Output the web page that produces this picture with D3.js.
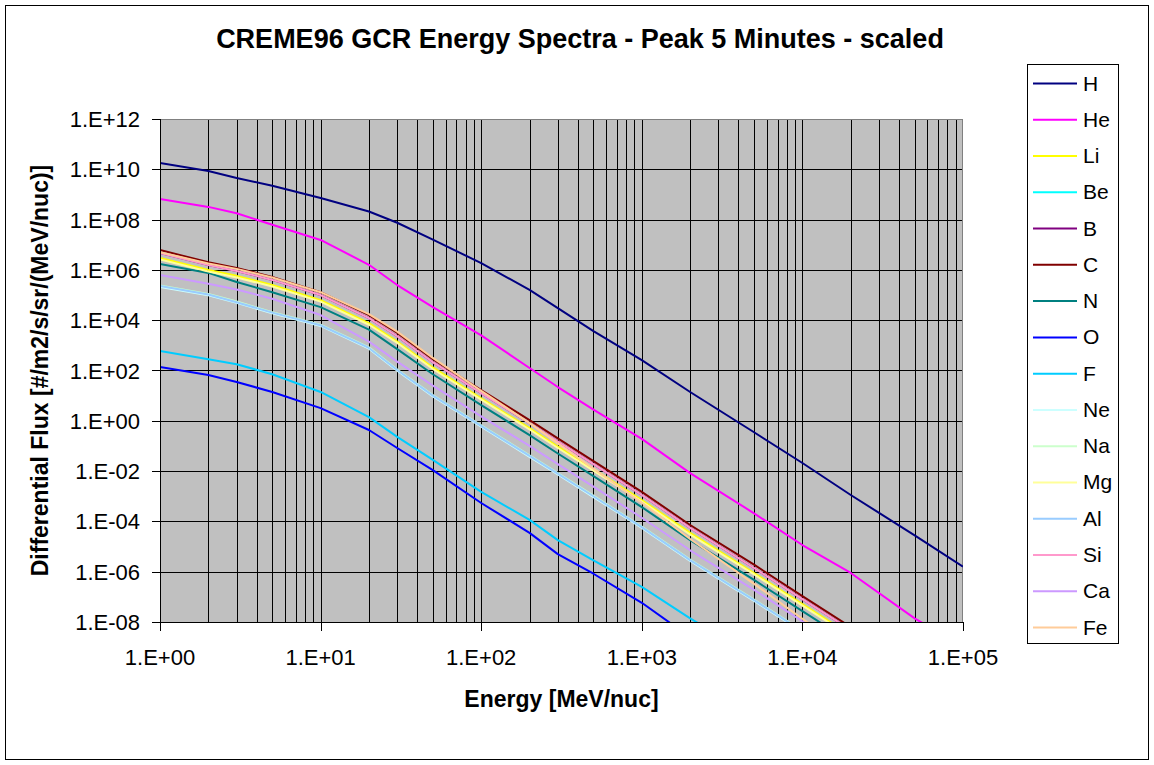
<!DOCTYPE html>
<html lang="en">
<head>
  <meta charset="UTF-8">
  <title>CREME96 GCR Energy Spectra</title>
  <script src="https://d3js.org/d3.v7.min.js"></script>
  <style>
    body { margin: 0; background: #fff; }
    text { font-family: "Liberation Sans", Arial, sans-serif; fill: #000; }
    .tick-label { font-size: 22px; }
    .axis-title { font-size: 23px; font-weight: bold; }
    .title { font-size: 27px; font-weight: bold; }
    .legend-label { font-size: 21px; }
  </style>
</head>
<body>
  <div id="chart"></div>
  <script>
    // energies [MeV/nuc]
    const energies = [1, 2, 3, 5, 10, 20, 30, 50, 100, 200, 300, 500, 1000, 2000, 5000, 1e4, 2e4, 5e4, 1e5];

    // differential flux, one array per element
    const fluxH  = [1.8e10, 8.5e9, 4.5e9, 2.2e9, 7.2e8, 2.1e8, 7.5e7, 1.6e7, 1.86e6, 1.6e5, 3.0e4, 3.7e3, 2.6e2, 14, 0.35, 0.021, 1.12e-3, 2.8e-5, 1.6e-6];
    const fluxHe = [6.6e8, 3.2e8, 1.8e8, 6.2e7, 1.55e7, 1.6e6, 2.5e5, 3.3e4, 2.5e3, 126, 22, 2.8, 0.19, 8.3e-3, 2.1e-4, 1.15e-5, 8.9e-7, 1.4e-8, 1.0e-9];
    const fluxLi = [3.0e6, 1.0e6, 5.8e5, 2.5e5, 6.3e4, 7.6e3, 1.4e3, 132, 7.9, 0.51, 0.095, 0.012, 7.1e-4, 3.5e-5, 8.9e-7, 5.1e-8, 3.0e-9, 8e-11, 5e-12];
    const fluxBe = [2.3e5, 1.05e5, 5.2e4, 2.0e4, 6.3e3, 790, 105, 10, 0.63, 0.04, 7.9e-3, 1e-3, 5.9e-5, 2.9e-6, 7.4e-8, 4.3e-9, 2.5e-10, 6.3e-12, 4e-13];
    const fluxB  = [4.7e6, 1.55e6, 9.1e5, 4.0e5, 1.0e5, 1.2e4, 2.3e3, 214, 12.6, 0.81, 0.15, 0.019, 1.12e-3, 5.5e-5, 1.4e-6, 8.1e-8, 4.8e-9, 1.2e-10, 8e-12];
    const fluxC  = [6.2e6, 2.0e6, 1.2e6, 5.2e5, 1.3e5, 1.6e4, 3.1e3, 280, 16.6, 1.07, 0.2, 0.025, 1.5e-3, 7.2e-5, 1.9e-6, 1.07e-7, 6.3e-9, 1.6e-10, 1e-11];
    const fluxN  = [1.7e6, 7.6e5, 3.3e5, 1.3e5, 3.3e4, 4.2e3, 710, 71, 4.2, 0.27, 0.05, 6.3e-3, 3.7e-4, 1.8e-5, 4.7e-7, 2.7e-8, 1.6e-9, 4e-11, 2.5e-12];
    const fluxO  = [138, 66, 35, 14, 3.2, 0.43, 0.083, 0.011, 5.4e-4, 3.5e-5, 5.0e-6, 8.3e-7, 5.8e-8, 2.5e-9, 6.3e-11, 4e-12, 2.5e-13, 6e-15, 3e-16];
    const fluxF  = [600, 282, 178, 71, 14, 1.4, 0.23, 0.028, 1.5e-3, 1.15e-4, 1.8e-5, 2.8e-6, 2.5e-7, 1.4e-8, 4e-10, 2.5e-11, 1.5e-12, 4e-14, 2e-15];
    const fluxNe = [2.1e5, 9.8e4, 4.9e4, 1.87e4, 5.9e3, 740, 98, 9.3, 0.59, 0.037, 7.4e-3, 9.3e-4, 5.5e-5, 2.7e-6, 6.9e-8, 4.0e-9, 2.3e-10, 5.9e-12, 3.7e-13];
    const fluxNa = [2.4e5, 1.1e5, 5.5e4, 2.1e4, 6.6e3, 830, 110, 10.5, 0.66, 0.042, 8.3e-3, 1.05e-3, 6.2e-5, 3.0e-6, 7.8e-8, 4.5e-9, 2.6e-10, 6.6e-12, 4.2e-13];
    const fluxMg = [2.6e6, 8.7e5, 5.0e5, 2.2e5, 5.5e4, 6.6e3, 1.26e3, 115, 6.9, 0.45, 0.083, 0.0105, 6.2e-4, 3.0e-5, 7.8e-7, 4.5e-8, 2.6e-9, 6.3e-11, 4e-12];
    const fluxAl = [2.3e5, 1.05e5, 5.2e4, 2.0e4, 6.3e3, 790, 105, 10, 0.63, 0.04, 7.9e-3, 1e-3, 5.9e-5, 2.9e-6, 7.4e-8, 4.3e-9, 2.5e-10, 6.3e-12, 4e-13];
    const fluxSi = [4.7e6, 1.55e6, 9.1e5, 4.0e5, 1.0e5, 1.2e4, 2.3e3, 214, 12.6, 0.81, 0.15, 0.019, 1.12e-3, 5.5e-5, 1.4e-6, 8.1e-8, 4.8e-9, 1.2e-10, 8e-12];
    const fluxCa = [6.3e5, 2.8e5, 1.66e5, 7.1e4, 1.6e4, 1.4e3, 224, 25, 1.5, 0.1, 0.019, 2.4e-3, 1.4e-4, 7.1e-6, 1.9e-7, 1.07e-8, 6.3e-10, 1.6e-11, 1e-12];
    const fluxFe = [5.1e6, 1.8e6, 1.1e6, 5.0e5, 1.3e5, 1.74e4, 3.5e3, 316, 15.5, 0.81, 0.126, 0.0126, 5.6e-4, 2.0e-5, 3.3e-7, 1.35e-8, 6.3e-10, 1.3e-11, 6.3e-13];

    const elements = ["H", "He", "Li", "Be", "B", "C", "N", "O", "F", "Ne", "Na", "Mg", "Al", "Si", "Ca", "Fe"];
    const fluxes = [fluxH, fluxHe, fluxLi, fluxBe, fluxB, fluxC, fluxN, fluxO, fluxF, fluxNe, fluxNa, fluxMg, fluxAl, fluxSi, fluxCa, fluxFe];
    const colors = ["#000080", "#FF00FF", "#FFFF00", "#00FFFF", "#800080", "#800000", "#008080", "#0000FF",
                    "#00CCFF", "#CCFFFF", "#CCFFCC", "#FFFF99", "#99CCFF", "#FF99CC", "#CC99FF", "#FFCC99"];

    const yTickPowers = [12, 10, 8, 6, 4, 2, 0, -2, -4, -6, -8];
    const xTickPowers = [0, 1, 2, 3, 4, 5];

    const width = 1154, height = 765;
    const plot = { left: 160, right: 963, top: 119, bottom: 622 };

    const fmtExp = p => "1.E" + (p < 0 ? "-" : "+") + String(Math.abs(p)).padStart(2, "0");

    const svg = d3.select("#chart").append("svg")
      .attr("width", width)
      .attr("height", height);

    // outer chart border
    svg.append("rect")
      .attr("x", 5.5).attr("y", 5.5)
      .attr("width", width - 11).attr("height", height - 11)
      .attr("fill", "#fff").attr("stroke", "#000").attr("stroke-width", 1);

    const x = d3.scaleLog().domain([1, 1e5]).range([plot.left, plot.right]);
    const y = d3.scaleLog().domain([1e-8, 1e12]).range([plot.bottom, plot.top]);

    // plot background
    svg.append("rect")
      .attr("x", plot.left).attr("y", plot.top)
      .attr("width", plot.right - plot.left).attr("height", plot.bottom - plot.top)
      .attr("fill", "#C0C0C0");

    // vertical gridlines at every minor decade step
    const xGrid = [];
    xTickPowers.slice(0, -1).forEach(p => {
      for (let k = 1; k <= 9; k++) xGrid.push(k * Math.pow(10, p));
    });
    svg.append("g").selectAll("line")
      .data(xGrid)
      .enter().append("line")
      .attr("x1", d => Math.round(x(d)) + 0.5).attr("x2", d => Math.round(x(d)) + 0.5)
      .attr("y1", plot.top).attr("y2", plot.bottom)
      .attr("stroke", "#000").attr("stroke-width", 1);

    // horizontal gridlines
    svg.append("g").selectAll("line")
      .data(yTickPowers)
      .enter().append("line")
      .attr("x1", plot.left).attr("x2", plot.right)
      .attr("y1", d => Math.round(y(Math.pow(10, d))) + 0.5)
      .attr("y2", d => Math.round(y(Math.pow(10, d))) + 0.5)
      .attr("stroke", "#000").attr("stroke-width", 1);

    // plot border
    svg.append("rect")
      .attr("x", plot.left + 0.5).attr("y", plot.top + 0.5)
      .attr("width", plot.right - plot.left - 1).attr("height", plot.bottom - plot.top)
      .attr("fill", "none").attr("stroke", "#808080").attr("stroke-width", 1);

    // series
    svg.append("clipPath").attr("id", "plot-clip")
      .append("rect")
      .attr("x", plot.left).attr("y", plot.top)
      .attr("width", plot.right - plot.left).attr("height", plot.bottom - plot.top);

    const line = d3.line()
      .x(d => x(d[0]))
      .y(d => y(d[1]));

    svg.append("g").attr("clip-path", "url(#plot-clip)")
      .selectAll("path")
      .data(fluxes)
      .enter().append("path")
      .attr("d", vals => line(vals.map((v, i) => [energies[i], v])))
      .attr("fill", "none")
      .attr("stroke", (d, i) => colors[i])
      .attr("stroke-width", 2)
      .attr("stroke-linejoin", "round");

    // axes lines and ticks
    const axisG = svg.append("g");
    axisG.append("line")
      .attr("x1", plot.left + 0.5).attr("x2", plot.left + 0.5)
      .attr("y1", plot.top).attr("y2", plot.bottom + 1)
      .attr("stroke", "#000");
    axisG.append("line")
      .attr("x1", plot.left).attr("x2", plot.right)
      .attr("y1", plot.bottom + 0.5).attr("y2", plot.bottom + 0.5)
      .attr("stroke", "#000");

    axisG.selectAll(".ytick")
      .data(yTickPowers)
      .enter().append("line")
      .attr("x1", plot.left - 8).attr("x2", plot.left)
      .attr("y1", d => Math.round(y(Math.pow(10, d))) + 0.5)
      .attr("y2", d => Math.round(y(Math.pow(10, d))) + 0.5)
      .attr("stroke", "#000");

    axisG.selectAll(".ylab")
      .data(yTickPowers)
      .enter().append("text")
      .attr("class", "tick-label")
      .attr("x", plot.left - 20)
      .attr("y", d => y(Math.pow(10, d)) + 8)
      .attr("text-anchor", "end")
      .text(d => fmtExp(d));

    axisG.selectAll(".xtick")
      .data(xTickPowers)
      .enter().append("line")
      .attr("x1", d => Math.round(x(Math.pow(10, d))) + 0.5)
      .attr("x2", d => Math.round(x(Math.pow(10, d))) + 0.5)
      .attr("y1", plot.bottom).attr("y2", plot.bottom + 9)
      .attr("stroke", "#000");

    axisG.selectAll(".xlab")
      .data(xTickPowers)
      .enter().append("text")
      .attr("class", "tick-label")
      .attr("x", d => x(Math.pow(10, d)))
      .attr("y", plot.bottom + 43)
      .attr("text-anchor", "middle")
      .text(d => fmtExp(d));

    // titles
    svg.append("text")
      .attr("class", "title")
      .attr("x", 580).attr("y", 48)
      .attr("text-anchor", "middle")
      .text("CREME96 GCR Energy Spectra - Peak 5 Minutes - scaled");

    svg.append("text")
      .attr("class", "axis-title")
      .attr("x", (plot.left + plot.right) / 2).attr("y", 707)
      .attr("text-anchor", "middle")
      .text("Energy [MeV/nuc]");

    svg.append("text")
      .attr("class", "axis-title")
      .attr("transform", `translate(48, ${(plot.top + plot.bottom) / 2}) rotate(-90)`)
      .attr("text-anchor", "middle")
      .text("Differential Flux [#/m2/s/sr/(MeV/nuc)]");

    // legend
    const legend = svg.append("g");
    legend.append("rect")
      .attr("x", 1027.5).attr("y", 64.5)
      .attr("width", 91).attr("height", 579)
      .attr("fill", "#fff").attr("stroke", "#000");

    const entry = legend.selectAll("g.entry")
      .data(elements)
      .enter().append("g")
      .attr("class", "entry")
      .attr("transform", (d, i) => `translate(0, ${83 + i * 36.27})`);

    entry.append("line")
      .attr("x1", 1033).attr("x2", 1077)
      .attr("y1", 0.5).attr("y2", 0.5)
      .attr("stroke", (d, i) => colors[i])
      .attr("stroke-width", 2);

    entry.append("text")
      .attr("class", "legend-label")
      .attr("x", 1083).attr("y", 7.5)
      .text(d => d);
  </script>
</body>
</html>
